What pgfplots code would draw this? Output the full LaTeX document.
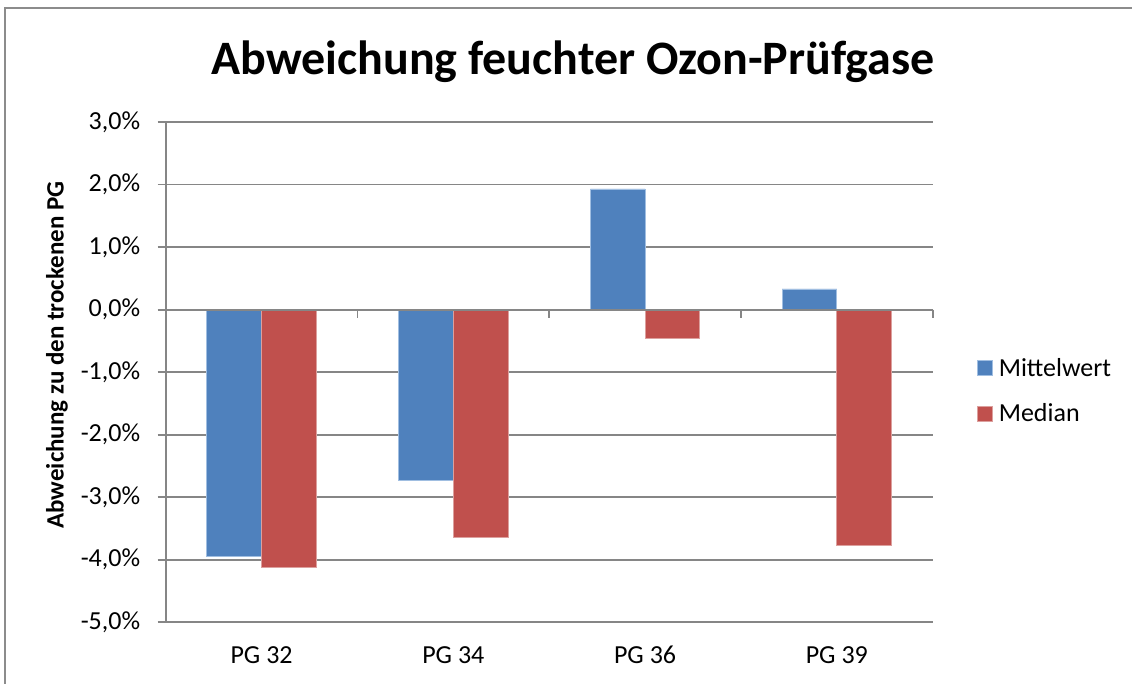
\documentclass[border=0pt]{standalone}
\usepackage{pgfplots}
\pgfplotsset{compat=1.18}
\usepackage{fontspec}
\setmainfont{Carlito}
\definecolor{xblue}{RGB}{79,129,189}
\definecolor{xred}{RGB}{192,80,77}
\definecolor{xblueedge}{RGB}{160,190,225}
\definecolor{xrededge}{RGB}{220,160,158}
\definecolor{gridgray}{RGB}{134,134,134}
\definecolor{bordergray}{RGB}{140,140,140}
\begin{document}
\begin{tikzpicture}
\path[use as bounding box] (0,0) rectangle (1132pt,684pt);
\draw[bordergray, line width=2pt] (5pt,0pt) -- (5pt,675.5pt) -- (1132pt,675.5pt);
\node[font=\fontsize{48}{57}\selectfont\bfseries, anchor=base] at (573pt,609pt) {Abweichung feuchter Ozon-Prüfgase};
\begin{axis}[
  at={(165.7pt,61.7pt)}, anchor=south west,
  width=767pt, height=500.3pt, scale only axis,
  xmin=-0.5, xmax=3.5, ymin=-5, ymax=3,
  ybar=0pt, bar width=54.7pt,
  axis x line=none,
  axis y line*=left,
  y axis line style={gridgray, line width=1.8pt, -},
  ytick={-5,-4,...,3},
  ymajorgrids,
  grid style={gridgray, line width=1.8pt},
  tick align=outside,
  major tick length=8pt,
  ytick style={gridgray, line width=1.8pt},
  /pgf/number format/assume math mode=true,
  yticklabel={\pgfmathprintnumber[fixed,fixed zerofill,precision=1,use comma]{\tick}\%},
  yticklabel style={font=\fontsize{26}{31}\selectfont, xshift=-14pt},
  ylabel={Abweichung zu den trockenen PG},
  every axis y label/.style={at={(axis description cs:-0.1417,0.5343)}, rotate=90, anchor=center, font=\fontsize{25}{30}\selectfont\bfseries},
  legend style={at={(rel axis cs:1.0575,0.463)}, anchor=west, draw=none, fill=none,
    inner sep=0pt, row sep=20pt,
    font=\fontsize{26}{31}\selectfont,
    nodes={inner xsep=6pt, inner ysep=3pt}},
  legend cell align=left,
  legend image code/.code={\fill[#1] (0pt,-8pt) rectangle (15pt,7pt);},
  clip=false,
]
\addplot[fill=xblue, draw=xblueedge, line width=0.8pt] coordinates {(0,-3.94) (1,-2.73) (2,1.93) (3,0.33)};
\addplot[fill=xred, draw=xrededge, line width=0.8pt] coordinates {(0,-4.12) (1,-3.64) (2,-0.46) (3,-3.77)};
\legend{Mittelwert, Median}
\draw[gridgray, line width=1.8pt] (axis cs:-0.5,0) -- (axis cs:3.5,0);
\draw[gridgray, line width=1.8pt] (axis cs:0.5,0) -- ([yshift=-8pt]axis cs:0.5,0);
\draw[gridgray, line width=1.8pt] (axis cs:1.5,0) -- ([yshift=-8pt]axis cs:1.5,0);
\draw[gridgray, line width=1.8pt] (axis cs:2.5,0) -- ([yshift=-8pt]axis cs:2.5,0);
\draw[gridgray, line width=1.8pt] (axis cs:3.5,0) -- ([yshift=-8pt]axis cs:3.5,0);
\node[font=\fontsize{26}{31}\selectfont, anchor=base] at (axis cs:0,-5) [yshift=-41.7pt] {PG 32};
\node[font=\fontsize{26}{31}\selectfont, anchor=base] at (axis cs:1,-5) [yshift=-41.7pt] {PG 34};
\node[font=\fontsize{26}{31}\selectfont, anchor=base] at (axis cs:2,-5) [yshift=-41.7pt] {PG 36};
\node[font=\fontsize{26}{31}\selectfont, anchor=base] at (axis cs:3,-5) [yshift=-41.7pt] {PG 39};
\end{axis}
\end{tikzpicture}
\end{document}
